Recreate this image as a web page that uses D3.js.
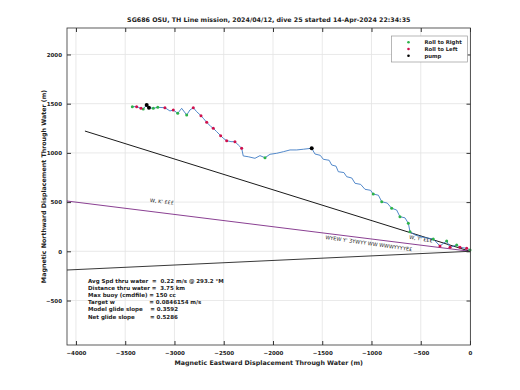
<!DOCTYPE html>
<html>
<head>
<meta charset="utf-8">
<script src="https://cdn.jsdelivr.net/npm/d3@7"></script>
<style>
  body { margin: 0; background: #fff; }
  text { font-family: "DejaVu Sans", sans-serif; font-weight: bold; fill: #222; }
</style>
</head>
<body>
<div id="chart"></div>
<script>
var W = 520, H = 390;
var margin = {top: 28, right: 49.5, bottom: 45, left: 67};

// ticks
var xTicks = [-4000, -3500, -3000, -2500, -2000, -1500, -1000, -500, 0];
var yTicks = [-500, 0, 500, 1000, 1500, 2000];

// glider track through water (east, north), m
var trackE = [-3428, -3384, -3340, -3317, -3282, -3259, -3215, -3170, -3097, -3046, -3012, -2967, -2927, -2876, -2843, -2809,
  -2775, -2731, -2708, -2673, -2629, -2606, -2572, -2531, -2504, -2470, -2426, -2386, -2352, -2318, -2302, -2251,
  -2183, -2132, -2081, -2030, -1962, -1895, -1827, -1759, -1692, -1607, -1574, -1520, -1489, -1430, -1404, -1360,
  -1337, -1280, -1252, -1200, -1167, -1110, -1066, -1010, -982, -930, -896, -840, -795, -745, -711, -660, -626,
  -609, -558, -474, -373, -305, -237, -203, -135, -102, -34, 0];
var trackN = [1470, 1470, 1453, 1446, 1487, 1459, 1453, 1463, 1459, 1426, 1436, 1402, 1453, 1385, 1436, 1459,
  1419, 1378, 1352, 1311, 1266, 1250, 1216, 1175, 1148, 1124, 1114, 1114, 1080, 1047, 969, 961,
  945, 972, 951, 986, 996, 1012, 1030, 1030, 1037, 1047, 989, 975, 935, 925, 877, 865,
  809, 800, 758, 745, 691, 680, 630, 620, 582, 570, 504, 490, 437, 420, 352, 340, 285,
  199, 166, 142, 125, 54, 105, 41, 64, 41, 30, 13];

// roll / pump events
var rollRightE = [-3428, -3317, -3215, -3170, -2967, -2876, -2081, -982, -896, -795, -711, -626, -609, -373, -237, -135, 0];
var rollRightN = [1470, 1446, 1453, 1463, 1402, 1385, 951, 582, 504, 437, 352, 285, 199, 125, 105, 64, 13];
var rollLeftE = [-3384, -3340, -3097, -3012, -2809, -2731, -2673, -2606, -2531, -2470, -2386, -2318, -305, -203, -102, -34];
var rollLeftN = [1470, 1453, 1459, 1436, 1459, 1378, 1311, 1250, 1175, 1124, 1114, 1047, 54, 41, 41, 30];
var pumpE = [-3282, -3259, -1607];
var pumpN = [1487, 1459, 1047];

// reference lines from origin (end points)
var refLineE = [-3909, -4091, -4091];
var refLineN = [1222, 511, -190];
var refLineColor = ["#000", "#7d2a86", "#222"];

var legendNames = ["Roll to Right", "Roll to Left", "pump"];
var legendColors = ["#2db34a", "#d0104c", "#000"];

var infoLines = [
  "Avg Spd thru water  =  0.22 m/s @ 293.2 \u00b0M",
  "Distance thru water =  3.75 km",
  "Max buoy (cmdfile) = 150 cc",
  "Target w                  = 0.0846154 m/s",
  "Model glide slope    = 0.3592",
  "Net glide slope        = 0.5286"
];

var width = W - margin.left - margin.right,
    height = H - margin.top - margin.bottom;

var svg = d3.select("#chart").append("svg")
    .attr("width", W)
    .attr("height", H)
  .append("g")
    .attr("transform", "translate(" + margin.left + "," + margin.top + ")");

var x = d3.scaleLinear().domain([-4091, 5]).range([0, width]),
    y = d3.scaleLinear().domain([-952, 2269]).range([height, 0]);

// grid
svg.append("g").selectAll("line").data(xTicks).enter().append("line")
    .attr("x1", function(d) { return x(d); }).attr("x2", function(d) { return x(d); })
    .attr("y1", 0).attr("y2", height)
    .attr("stroke", "#e3e3e3").attr("stroke-width", 0.8);
svg.append("g").selectAll("line").data(yTicks).enter().append("line")
    .attr("y1", function(d) { return y(d); }).attr("y2", function(d) { return y(d); })
    .attr("x1", 0).attr("x2", width)
    .attr("stroke", "#e3e3e3").attr("stroke-width", 0.8);

// reference lines
svg.append("g").selectAll("line").data(refLineE).enter().append("line")
    .attr("x1", x(0)).attr("y1", y(0))
    .attr("x2", function(d) { return x(d); })
    .attr("y2", function(d, i) { return y(refLineN[i]); })
    .attr("stroke", function(d, i) { return refLineColor[i]; })
    .attr("stroke-width", 0.9);

// line labels (garbled in the original)
function lineLabel(t, px, py, ang) {
  svg.append("text")
    .attr("transform", "translate(" + px + "," + py + ") rotate(" + ang + ")")
    .attr("font-size", "5px")
    .style("font-weight", "normal")
    .text(t);
}
lineLabel("W, K' \u00a3\u00a3\u00a3", x(-3250) , y(500), 6);
lineLabel("W, Y' \u00a3\u00a3\u00a3", x(-620), y(128), 9);
lineLabel("WYEW Y' \u01b7YWYY WW WWWYYYYE\u00a3", x(-1470), y(125), 8);

// track
var track = trackE.map(function(d, i) { return [d, trackN[i]]; });
svg.append("path")
    .datum(track)
    .attr("fill", "none")
    .attr("stroke", "#3f7cc4")
    .attr("stroke-width", 0.9)
    .attr("d", d3.line().x(function(d) { return x(d[0]); }).y(function(d) { return y(d[1]); }));

function markers(es, ns, col, r) {
  svg.append("g").selectAll("circle").data(es).enter().append("circle")
    .attr("cx", function(d) { return x(d); })
    .attr("cy", function(d, i) { return y(ns[i]); })
    .attr("r", r)
    .attr("fill", col);
}
markers(rollRightE, rollRightN, legendColors[0], 1.5);
markers(rollLeftE, rollLeftN, legendColors[1], 1.5);
markers(pumpE, pumpN, legendColors[2], 2);

// frame + ticks inside on all sides
svg.append("rect").attr("width", width).attr("height", height)
    .attr("fill", "none").attr("stroke", "#333").attr("stroke-width", 0.8);

svg.append("g")
    .attr("class", "x-axis")
    .attr("transform", "translate(0," + height + ")")
    .call(d3.axisBottom(x).tickValues(xTicks).tickSize(-4).tickPadding(6).tickFormat(d3.format("d")))
    .call(function(g) { g.select(".domain").remove(); g.selectAll("line").attr("stroke", "#333"); })
    .selectAll("text").attr("font-size", "5.5px").style("fill", "#222");
svg.append("g")
    .call(d3.axisTop(x).tickValues(xTicks).tickSize(-4).tickFormat(""))
    .call(function(g) { g.select(".domain").remove(); g.selectAll("line").attr("stroke", "#333"); });
svg.append("g")
    .attr("class", "y-axis")
    .call(d3.axisLeft(y).tickValues(yTicks).tickSize(-4).tickPadding(5).tickFormat(d3.format("d")))
    .call(function(g) { g.select(".domain").remove(); g.selectAll("line").attr("stroke", "#333"); })
    .selectAll("text").attr("font-size", "5.5px").style("fill", "#222");
svg.append("g")
    .attr("transform", "translate(" + width + ",0)")
    .call(d3.axisRight(y).tickValues(yTicks).tickSize(-4).tickFormat(""))
    .call(function(g) { g.select(".domain").remove(); g.selectAll("line").attr("stroke", "#333"); });

// title + axis labels
svg.append("text")
    .attr("x", width / 2).attr("y", -6)
    .attr("text-anchor", "middle")
    .attr("font-size", "6.3px")
    .text("SG686 OSU, TH Line mission, 2024/04/12, dive 25 started 14-Apr-2024 22:34:35");
svg.append("text")
    .attr("x", width / 2).attr("y", height + 20)
    .attr("text-anchor", "middle")
    .attr("font-size", "6.3px")
    .text("Magnetic Eastward Displacement Through Water (m)");
svg.append("text")
    .attr("transform", "translate(-21.5," + height / 2 + ") rotate(-90)")
    .attr("text-anchor", "middle")
    .attr("font-size", "6.3px")
    .text("Magnetic Northward Displacement Through Water (m)");

// info text
svg.append("g").selectAll("text").data(infoLines).enter().append("text")
    .attr("x", 21)
    .attr("y", function(d, i) { return 255 + i * 7.1; })
    .attr("font-size", "5.5px")
    .style("white-space", "pre")
    .text(function(d) { return d; });

// legend
var leg = svg.append("g").attr("transform", "translate(" + (width - 79) + ",8)");
leg.append("rect").attr("width", 76).attr("height", 26)
    .attr("fill", "#fff").attr("stroke", "#999").attr("stroke-width", 0.7);
legendNames.forEach(function(n, i) {
  leg.append("circle").attr("cx", 17).attr("cy", 6.3 + i * 6.7).attr("r", 1.3).attr("fill", legendColors[i]);
  leg.append("text").attr("x", 33).attr("y", 8.3 + i * 6.7).attr("font-size", "5.3px").text(n);
});
</script>
</body>
</html>
